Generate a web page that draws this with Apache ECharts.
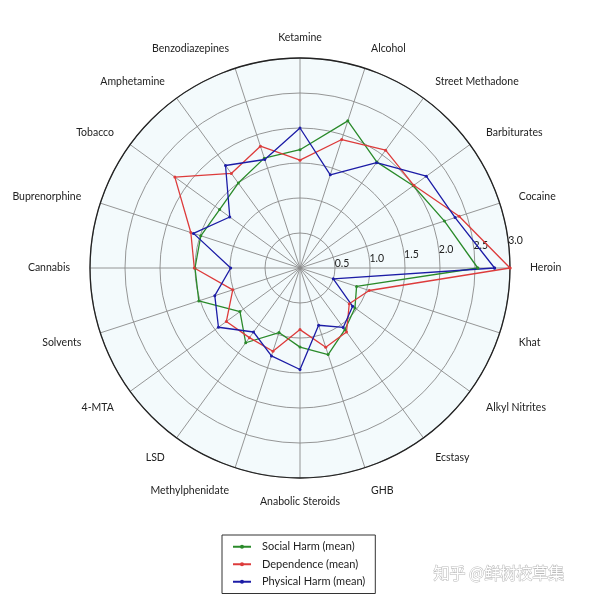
<!DOCTYPE html>
<html>
<head>
<meta charset="utf-8">
<script src="https://cdn.jsdelivr.net/npm/echarts@6/dist/echarts.min.js"></script>
<style>html,body{margin:0;padding:0;background:#fff}#c{width:600px;height:600px}</style>
</head>
<body>
<div id="c"></div>
<script>
const categories = ['Heroin','Cocaine','Barbiturates','Street Methadone','Alcohol','Ketamine','Benzodiazepines','Amphetamine','Tobacco','Buprenorphine','Cannabis','Solvents','4-MTA','LSD','Methylphenidate','Anabolic Steroids','GHB','Ecstasy','Alkyl Nitrites','Khat'];
const socialHarm = [2.54,2.17,2.00,1.87,2.21,1.69,1.65,1.50,1.42,1.49,1.50,1.52,1.06,1.32,0.97,1.13,1.30,1.09,0.97,0.85];
const dependence = [3.00,2.39,2.01,2.08,1.93,1.54,1.83,1.67,2.21,1.64,1.51,1.01,1.30,1.23,1.25,0.88,1.19,1.13,0.87,1.04];
const physicalHarm = [2.78,2.33,2.23,1.86,1.40,2.00,1.63,1.81,1.24,1.60,0.99,1.28,1.44,1.13,1.32,1.45,0.86,1.05,0.93,0.50];
const seriesNames = ['Social Harm (mean)','Dependence (mean)','Physical Harm (mean)'];
const radialTicks = ['', '0.5', '1.0', '1.5', '2.0', '2.5', '3.0'];

const FONT = 'Lato';
const FS = 10.5;
const colors = ['#2a8a2a', '#dd3b3b', '#1c1ca6'];
const CENTER = [300, 268];
const RADIUS = 210;
const N = categories.length;
const BG = '#f3fafc';

// data on a numeric angle axis (category index), closed back to the first category at index N
function closed(vals) {
  const d = vals.map((v, i) => [v, i]);
  d.push([vals[0], N]);
  return d;
}

// category label text, styled so that it is vertically centred on its anchor
function catLabel(v) {
  const i = Math.round(v);
  const name = categories[i];
  if (!name || i >= N) return '';
  const s = Math.sin(i * Math.PI * 2 / N);
  const key = s > 0.2 ? 'up' : (s < -0.2 ? 'dn' : 'md');
  return '{' + key + '|' + name + '}';
}
const tok = (lh) => ({fontFamily: FONT, fontSize: FS, color: '#222', lineHeight: lh});

const chart = echarts.init(document.getElementById('c'), null, {renderer: 'canvas'});
const allSeries = [socialHarm, dependence, physicalHarm].map((vals, k) => ({
  name: seriesNames[k],
  type: 'line',
  coordinateSystem: 'polar',
  polarIndex: 0,
  data: closed(vals),
  symbol: 'circle',
  symbolSize: 3,
  showSymbol: true,
  clip: false,
  lineStyle: {color: colors[k], width: 1.3},
  itemStyle: {color: colors[k]},
  animation: false,
  z: 3
}));

chart.setOption({
  backgroundColor: '#fff',
  animation: false,
  polar: [
    {center: CENTER, radius: RADIUS},
    {center: CENTER, radius: RADIUS},
    {center: CENTER, radius: RADIUS}
  ],
  angleAxis: [
    {
      polarIndex: 0,
      type: 'value',
      min: 0, max: N, interval: 1,
      startAngle: 0,
      clockwise: false,
      axisLine: {show: true, lineStyle: {color: '#222', width: 1.3}},
      axisTick: {show: false},
      splitLine: {show: true, lineStyle: {color: '#8a8a8a', width: 0.9}},
      axisLabel: {
        show: true, margin: 20, fontFamily: FONT, fontSize: FS, color: '#222',
        formatter: catLabel,
        rich: {up: tok(1), dn: tok(8), md: tok(12)}
      },
      z: 1
    },
    {polarIndex: 1, type: 'value', startAngle: 7.5, clockwise: false, show: false},
    {polarIndex: 2, type: 'value', min: 0, max: N, startAngle: 0, clockwise: false, show: false}
  ],
  radiusAxis: [
    {
      polarIndex: 0,
      type: 'value',
      min: 0, max: 3, interval: 0.5,
      axisLine: {show: false},
      axisTick: {show: false},
      axisLabel: {show: false},
      splitLine: {show: true, lineStyle: {color: '#8a8a8a', width: 0.9}},
      z: 1
    },
    {
      polarIndex: 1,
      type: 'value',
      min: 0, max: 3, interval: 0.5,
      axisLine: {show: false},
      axisTick: {show: false},
      splitLine: {show: false},
      axisLabel: {
        show: true, margin: 0, align: 'left', verticalAlign: 'middle',
        fontFamily: FONT, fontSize: FS, color: '#222',
        formatter: (v) => radialTicks[Math.round(v / 0.5)]
      },
      z: 2
    },
    {
      polarIndex: 2,
      type: 'value',
      min: 0, max: 3, interval: 3,
      axisLine: {show: false},
      axisTick: {show: false},
      axisLabel: {show: false},
      splitLine: {show: false},
      splitArea: {show: true, areaStyle: {color: [BG]}},
      z: 0
    }
  ],
  legend: {
    orient: 'vertical',
    left: 222,
    top: 535,
    data: seriesNames,
    itemWidth: 18,
    itemHeight: 5,
    itemGap: 4,
    padding: [5, 10, 5, 10],
    backgroundColor: '#fff',
    borderColor: '#333',
    borderWidth: 1,
    borderRadius: 0,
    textStyle: {fontFamily: FONT, fontSize: 11, color: '#222', lineHeight: 13.5, padding: [0, 0, 0, 6]}
  },
  graphic: [{
    type: 'text',
    left: 433,
    top: 564,
    silent: true,
    style: {
      text: '知乎 @鲜树校草集',
      font: '16px "Noto Sans CJK SC"',
      fill: '#ffffff',
      stroke: '#b8b8b8',
      lineWidth: 1
    },
    z: 10
  }],
  series: allSeries
});
</script>
</body>
</html>
